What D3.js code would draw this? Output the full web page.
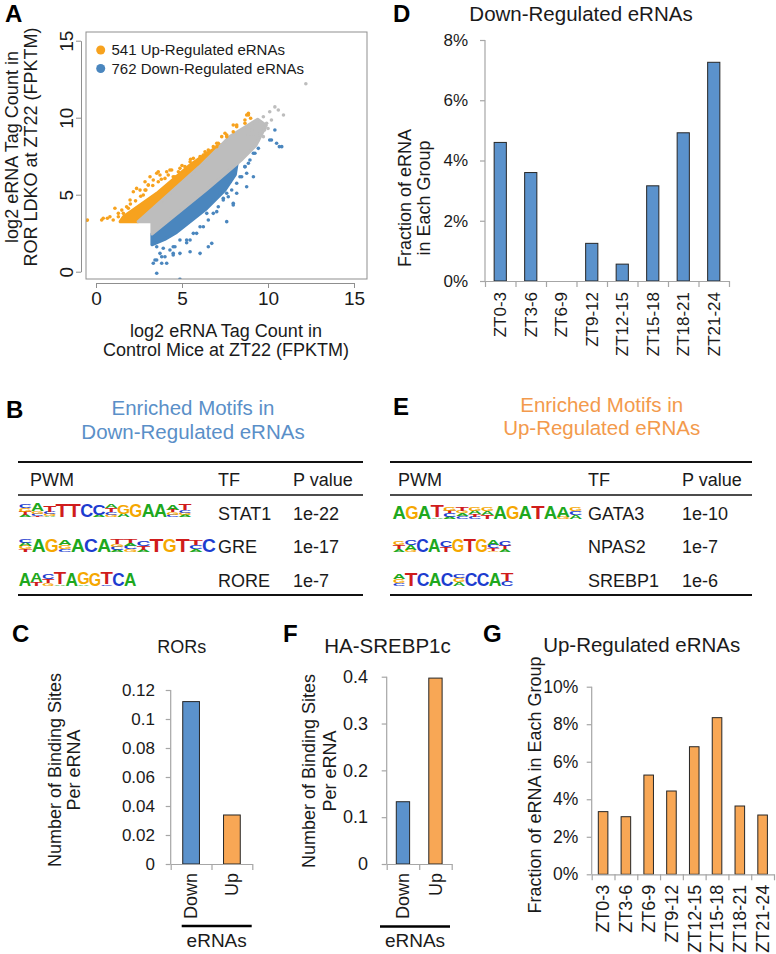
<!DOCTYPE html>
<html><head><meta charset="utf-8">
<script src="https://cdn.jsdelivr.net/npm/d3@7"></script>
<style>body{margin:0;background:#fff}svg{display:block}text{font-family:"Liberation Sans",Arial,Helvetica,sans-serif}</style>
</head><body><svg id="c" width="776" height="954"></svg>
<script>
// ---------------- DATA ----------------
const legendLabels = ["541 Up-Regulated eRNAs", "762 Down-Regulated eRNAs"];
const scatterTicks = [0, 5, 10, 15];
// dense point clouds (outline of the solid regions, data units)
const denseGrey = [[2.45,3.25],[3.25,3.25],[3.25,2.45],[6.4,5.3],[8.5,7.3],[9.3,8.2],[9.9,9.5],[9.4,9.9],[7.8,8.8],[7.0,7.9],[6.0,6.8]];
const denseUp = [[1.4,3.25],[2.45,3.25],[6.0,6.8],[7.0,7.9],[7.3,8.25],[6.44,7.69],[5.47,6.93],[3.53,5.09],[1.59,3.57]];
const denseDown = [[3.25,2.45],[6.4,5.3],[7.8,6.6],[8.2,7.0],[8.1,6.3],[7.5,5.3],[6.44,4.1],[4.69,2.55],[4.0,2.1],[3.25,1.75]];
// individual points
const pointsUp = [[-0.5,3.35],[0.33,3.36],[0.42,3.47],[0.66,3.47],[0.81,3.57],[1.0,3.36],[1.1,4.12],[1.3,3.57],[1.3,3.79],[1.59,3.79],[1.78,4.22],[1.88,4.12],[1.98,4.66],[2.17,5.19],[2.36,5.41],[2.56,5.3],[2.75,4.98],[2.85,5.84],[3.04,5.63],[3.14,6.17],[3.53,6.39],[3.62,5.84],[3.62,6.49],[4.11,6.49],[4.2,6.28],[4.49,6.17],[4.79,6.49],[4.88,6.39],[5.27,6.71],[5.37,6.6],[5.66,7.04],[5.85,7.04],[6.05,7.47],[6.34,7.79],[7.02,8.12],[7.02,8.34],[7.6,8.77],[7.6,8.88],[7.98,9.09],[7.98,9.53],[8.18,9.53],[8.66,9.64],[8.66,9.85],[8.86,10.18],[8.86,10.29],[8.99,9.96],[2.0,4.4],[2.3,4.6],[2.6,4.9],[1.5,4.0],[2.9,5.3],[3.3,5.6],[3.8,6.0],[4.4,6.6],[5.0,6.9],[5.5,7.3],
  [2.85,5.31],[3.04,5.63],[3.33,5.95],[3.72,6.28],[4.01,6.06],[4.3,6.6],[4.59,6.17],[4.88,6.71],[5.17,6.82],[5.47,7.14],[5.66,7.36],[5.95,7.25],[6.24,7.58],[6.53,7.9],[6.82,8.12],[7.11,8.34],[7.31,8.77],[7.5,8.99],[8.18,9.42],[8.76,10.18]];
const pointsDown = [[3.53,-0.1],[4.88,-0.5],[3.43,0.76],[3.82,0.97],[4.11,0.55],[4.49,1.19],[4.88,1.19],[5.47,1.3],[6.05,1.19],[6.73,1.84],[7.6,3.25],[6.44,3.79],[7.02,3.9],[7.98,4.44],[8.76,5.52],[9.15,6.17],[9.24,7.69],[9.44,8.01],[10.2,8.55],[10.4,9.2],[10.5,8.34],[10.66,8.12],[10.8,8.12],[8.37,6.17],[8.66,6.82],[8.86,7.04],[7.98,6.39],[7.79,5.84],[8.18,5.09],[7.21,5.09],[6.05,2.92],[5.66,2.49],[5.27,2.06],[4.49,1.62],[3.91,1.52],[3.53,1.62],[3.33,0.55],[6.82,4.66],[7.6,5.09],[5.27,1.88],[6.53,1.62],[7.98,4.33],[7.4,4.77],[8.76,6.39],[10.1,8.55],[4.49,1.08],
  [3.72,1.19],[4.01,0.97],[4.3,1.41],[4.59,1.62],[4.88,2.06],[5.47,2.06],[5.85,2.49],[6.24,2.92],[6.53,3.36],[6.82,3.79],[7.11,4.22],[7.4,4.66],[7.69,4.87],[7.89,5.31],[8.18,5.74],[8.47,6.17],[8.66,6.82],[8.95,7.25],[9.15,7.69],[3.53,0.76],[3.82,0.55]];
const pointsGrey = [[12.2,12.2],[10.4,10.7],[10.6,10.5],[10.9,10.18],[10.1,10.39],[9.73,10.06],[9.53,9.74],[9.24,9.64],[9.92,9.64],[10.2,9.85],[9.53,8.99],[9.15,8.77],[9.73,8.77],[9.44,8.55],[9.05,9.2],[8.86,8.88],[10.0,9.3],[9.8,9.2]];

const ztGroups = ["ZT0-3","ZT3-6","ZT6-9","ZT9-12","ZT12-15","ZT15-18","ZT18-21","ZT21-24"];
const downFraction = [4.6, 3.6, 0, 1.25, 0.56, 3.16, 4.92, 7.26];
const upFraction = [3.34, 3.07, 5.29, 4.44, 6.8, 8.35, 3.64, 3.16];
const downTicks = [0, 2, 4, 6, 8];
const upTicks = [0, 2, 4, 6, 8, 10];

const siteGroups = ["Down", "Up"];
const rorSites = [0.112, 0.0338];
const rorTicks = [0, 0.02, 0.04, 0.06, 0.08, 0.1, 0.12];
const srebpSites = [0.133, 0.397];
const srebpTicks = [0, 0.1, 0.2, 0.3, 0.4];

const tableHeader = ["PWM", "TF", "P value"];
const downTF = ["STAT1", "GRE", "RORE"];
const downP = ["1e-22", "1e-17", "1e-7"];
const upTF = ["GATA3", "NPAS2", "SREBP1"];
const upP = ["1e-10", "1e-7", "1e-6"];
// sequence logos: each position = stack of [letter, relative height], top to bottom
const logoSTAT1 = [[["C",.25],["G",.3],["T",.25],["A",.15]],[["A",.55],["G",.2],["C",.15],["T",.1]],[["T",.5],["C",.15],["G",.15],["A",.1]],[["T",1]],[["T",1]],[["C",1]],[["C",.8],["A",.15]],[["A",.3],["T",.3],["C",.2],["G",.15]],[["G",.7],["A",.25]],[["G",1]],[["A",1]],[["A",1]],[["A",.4],["T",.2],["G",.2],["C",.15]],[["T",.45],["C",.2],["G",.15],["A",.15]]];
const logoGRE = [[["C",.25],["A",.25],["G",.25],["T",.2]],[["A",.95]],[["G",.95]],[["A",.35],["G",.3],["C",.2]],[["A",1]],[["C",1]],[["A",1]],[["T",.35],["G",.2],["C",.25],["A",.15]],[["T",.3],["A",.2],["C",.25],["G",.2]],[["C",.35],["T",.3],["A",.15]],[["T",1]],[["G",1]],[["T",1]],[["T",.4],["C",.3],["A",.2]],[["C",.95]]];
const logoRORE = [[["A",1]],[["A",.65],["T",.25]],[["C",.35],["T",.3],["G",.2]],[["T",.9],["A",.1]],[["A",1]],[["G",.9],["A",.1]],[["G",1]],[["T",.9],["C",.1]],[["C",1]],[["A",1]]];
const logoGATA3 = [[["A",1]],[["G",1]],[["A",1]],[["T",.85],["A",.1]],[["G",.3],["T",.2],["C",.25],["A",.15]],[["T",.3],["G",.2],["A",.2],["C",.2]],[["G",.3],["A",.25],["T",.2],["C",.15]],[["G",.3],["A",.3],["T",.25]],[["A",1]],[["G",1]],[["A",1]],[["T",1]],[["A",1]],[["A",.75],["G",.15]],[["G",.3],["C",.25],["A",.3]]];
const logoNPAS2 = [[["G",.3],["T",.3],["A",.2]],[["C",.35],["A",.35],["G",.15]],[["C",1]],[["A",1]],[["C",.5],["T",.35]],[["G",1]],[["T",1]],[["G",1]],[["A",.35],["C",.25],["T",.2],["G",.1]],[["C",.35],["T",.25],["A",.2]]];
const logoSREBP1 = [[["A",.4],["G",.3],["C",.2]],[["T",1]],[["C",1]],[["A",1]],[["C",1]],[["C",.3],["G",.3],["A",.3]],[["C",1]],[["C",1]],[["A",1]],[["T",.6],["C",.35]]];

// ---------------- STYLE ----------------
const INK = "#1a1a1a", AXIS = "#a6a6a6", RAXIS = "#8f8f8f";
const C_UP = "#f7a21e", C_DOWN = "#4a86be", C_GREY = "#bdbdbd";
const BAR_BLUE = "#5b92cc", BAR_ORANGE = "#f8a755";
const TITLE_BLUE = "#5a8fc8", TITLE_ORANGE = "#f39a4c";
const logoColors = {A:"#1ea81e", C:"#1d3ccf", G:"#f5a700", T:"#d01c1c"};

const svg = d3.select("#c");

function text(g, x, y, s, size, o = {}) {
  return g.append("text").attr("x", x).attr("y", y).text(s)
    .attr("font-size", size).attr("fill", o.fill || INK)
    .attr("text-anchor", o.anchor || "start")
    .attr("font-weight", o.bold ? "bold" : null);
}
function rtext(g, x, y, s, size, anchor = "middle", fill = INK) {
  return g.append("text").attr("transform", `translate(${x},${y}) rotate(-90)`)
    .text(s).attr("font-size", size).attr("fill", fill).attr("text-anchor", anchor);
}

// panel letters
[["A",5,22],["D",393,22],["B",6,418],["E",393,415],["C",12,642],["F",283,642],["G",483,642]]
  .forEach(([l,x,y]) => text(svg, x, y, l, 24, {bold: true, fill: "#000"}));

// ---------------- PANEL A: scatter ----------------
(function () {
  const g = svg.append("g");
  const x = d3.scaleLinear().domain([0, 15]).range([96, 354]);
  const y = d3.scaleLinear().domain([0, 15]).range([271.7, 40.7]);
  const bx0 = 86, by0 = 32, bx1 = 367, by1 = 279;
  svg.append("clipPath").attr("id", "clipA").append("rect")
    .attr("x", bx0).attr("y", by0).attr("width", bx1 - bx0).attr("height", by1 - by0);
  const pg = g.append("g").attr("clip-path", "url(#clipA)");
  const line = d3.line().x(d => x(d[0])).y(d => y(d[1])).curve(d3.curveLinearClosed);
  [[denseUp, C_UP], [denseDown, C_DOWN], [denseGrey, C_GREY]].forEach(([poly, col]) => {
    pg.append("path").attr("d", line(poly)).attr("fill", col).attr("stroke", col)
      .attr("stroke-width", 3).attr("stroke-linejoin", "round");
  });
  [[pointsGrey, C_GREY], [pointsUp, C_UP], [pointsDown, C_DOWN]].forEach(([pts, col]) => {
    pg.selectAll(null).data(pts).join("circle")
      .attr("cx", d => x(d[0])).attr("cy", d => y(d[1])).attr("r", 1.8).attr("fill", col);
  });
  g.append("rect").attr("x", bx0).attr("y", by0).attr("width", bx1 - bx0).attr("height", by1 - by0)
    .attr("fill", "none").attr("stroke", RAXIS).attr("stroke-width", 1);
  // axes
  const ax = g.append("g").attr("transform", "translate(0,283)")
    .call(d3.axisBottom(x).tickValues(scatterTicks).tickSize(5).tickSizeOuter(0).tickPadding(5));
  const ay = g.append("g").attr("transform", "translate(81,0)")
    .call(d3.axisLeft(y).tickValues(scatterTicks).tickSize(5).tickSizeOuter(0));
  [ax, ay].forEach(a => {
    a.select(".domain").attr("stroke", RAXIS);
    a.selectAll(".tick line").attr("stroke", RAXIS);
    a.selectAll("text").attr("font-size", 19).attr("fill", INK)
      .attr("font-family", '"Liberation Sans",Arial,sans-serif');
  });
  ax.selectAll("text").attr("dy", null).attr("y", 22);
  ay.selectAll("text").attr("transform", "rotate(-90)").attr("x", 0).attr("y", -8)
    .attr("dy", null).attr("text-anchor", "middle");
  // legend
  [[C_UP, 50], [C_DOWN, 68.5]].forEach(([col, yy], i) => {
    g.append("circle").attr("cx", 100.7).attr("cy", yy).attr("r", 4.5).attr("fill", col);
    text(g, 111.5, yy + 5.3, legendLabels[i], 15);
  });
  // axis titles
  text(g, 226, 337, "log2 eRNA Tag Count in", 18, {anchor: "middle"});
  text(g, 226, 356, "Control Mice at ZT22 (FPKTM)", 18, {anchor: "middle"});
  rtext(g, 18, 147, "log2 eRNA Tag Count in", 18);
  rtext(g, 37, 147, "ROR LDKO at ZT22 (FPKTM)", 18);
})();

// ---------------- generic Excel-style bar chart ----------------
function barChart(o) {
  const g = svg.append("g");
  const x = d3.scaleBand().domain(o.cats).range([o.x0, o.x1]);
  const xi = d3.scaleLinear().domain([0, o.cats.length]).range([o.x0, o.x1]);
  const y = d3.scaleLinear().domain([0, o.yMax]).range([o.y0, o.yTop]);
  const bw = x.bandwidth() * o.barFrac;
  const data = o.cats.map((c, i) => ({c, v: o.vals[i], col: Array.isArray(o.color) ? o.color[i] : o.color}))
    .filter(d => d.v > 0);
  g.selectAll(null).data(data).join("rect")
    .attr("x", d => x(d.c) + (x.bandwidth() - bw) / 2).attr("width", bw)
    .attr("y", d => y(d.v)).attr("height", d => y(0) - y(d.v))
    .attr("fill", d => d.col).attr("stroke", "#262626").attr("stroke-width", 1);
  const ay = g.append("g").attr("transform", `translate(${o.x0},0)`)
    .call(d3.axisLeft(y).tickValues(o.ticks).tickFormat(o.fmt).tickSize(5).tickSizeOuter(0).tickPadding(o.labelGap - 5));
  const ax = g.append("g").attr("transform", `translate(0,${o.y0})`)
    .call(d3.axisBottom(xi).tickValues(d3.range(o.cats.length + 1)).tickFormat("").tickSize(6).tickSizeOuter(0));
  [ax, ay].forEach(a => {
    a.select(".domain").attr("stroke", AXIS).attr("stroke-width", 1.2);
    a.selectAll(".tick line").attr("stroke", AXIS).attr("stroke-width", 1.2);
  });
  ay.select(".domain").attr("d", `M0,${o.y0}V${o.yTop}`);
  ay.selectAll("text").attr("font-size", o.tickFont).attr("fill", INK)
    .attr("font-family", '"Liberation Sans",Arial,sans-serif');
  g.selectAll(null).data(o.cats).join("text")
    .attr("transform", d => `translate(${x(d) + x.bandwidth() / 2},${o.y0 + o.xLabelGap}) rotate(-90)`)
    .attr("dy", "0.35em").attr("text-anchor", "end").attr("font-size", o.xFont).attr("fill", INK)
    .text(d => d);
  return g;
}

// ---------------- PANEL D ----------------
barChart({cats: ztGroups, vals: downFraction, color: BAR_BLUE, x0: 485, x1: 729, y0: 281, yTop: 40,
  yMax: 8, ticks: downTicks, fmt: d => d + "%", labelGap: 17, tickFont: 17, xLabelGap: 11, xFont: 17, barFrac: 0.4});
text(svg, 581, 21, "Down-Regulated eRNAs", 20.5, {anchor: "middle"});
rtext(svg, 411, 198, "Fraction of eRNA", 18);
rtext(svg, 430, 198, "in Each Group", 18);

// ---------------- PANEL G ----------------
barChart({cats: ztGroups, vals: upFraction, color: BAR_ORANGE, x0: 591.7, x1: 774, y0: 874.3, yTop: 686.7,
  yMax: 10, ticks: upTicks, fmt: d => d + "%", labelGap: 13.5, tickFont: 17.5, xLabelGap: 10.5, xFont: 18, barFrac: 0.42});
text(svg, 641.7, 652, "Up-Regulated eRNAs", 20.5, {anchor: "middle"});
rtext(svg, 541, 785, "Fraction of eRNA in Each Group", 18);

// ---------------- PANEL C ----------------
barChart({cats: siteGroups, vals: rorSites, color: [BAR_BLUE, BAR_ORANGE], x0: 170.7, x1: 252.3, y0: 864, yTop: 690,
  yMax: 0.12, ticks: rorTicks, fmt: d => d3.format("~g")(d), labelGap: 15.7, tickFont: 17, xLabelGap: 9, xFont: 18, barFrac: 0.41});
text(svg, 181.7, 653, "RORs", 18, {anchor: "middle"});
rtext(svg, 61, 770, "Number of Binding Sites", 18);
rtext(svg, 80, 770, "Per eRNA", 18);
svg.append("line").attr("x1", 181.7).attr("x2", 251.7).attr("y1", 926).attr("y2", 926).attr("stroke", "#000").attr("stroke-width", 2.5);
text(svg, 216.7, 946.5, "eRNAs", 19, {anchor: "middle"});

// ---------------- PANEL F ----------------
barChart({cats: siteGroups, vals: srebpSites, color: [BAR_BLUE, BAR_ORANGE], x0: 386.7, x1: 451.7, y0: 864, yTop: 676.7,
  yMax: 0.4, ticks: srebpTicks, fmt: d => d3.format("~g")(d), labelGap: 18.7, tickFont: 18, xLabelGap: 9, xFont: 18, barFrac: 0.41});
text(svg, 387.5, 653, "HA-SREBP1c", 20.5, {anchor: "middle"});
rtext(svg, 315, 771, "Number of Binding Sites", 18);
rtext(svg, 336, 771, "Per eRNA", 18);
svg.append("line").attr("x1", 380).attr("x2", 450).attr("y1", 926.5).attr("y2", 926.5).attr("stroke", "#000").attr("stroke-width", 2.5);
text(svg, 415, 946.5, "eRNAs", 19, {anchor: "middle"});

// ---------------- motif tables (B, E) ----------------
function drawLogo(g, positions, x0, bottom, posW, fullH) {
  positions.forEach((stack, i) => {
    let yb = bottom;
    stack.slice().reverse().forEach(([L, f]) => {
      const h = f * fullH;
      const t = g.append("text").text(L).attr("font-size", 100).attr("font-weight", "bold")
        .attr("fill", logoColors[L]).attr("text-anchor", "middle");
      const adv = t.node().getComputedTextLength() || 70;
      t.attr("transform", `translate(${x0 + (i + 0.5) * posW},${yb}) scale(${posW * 1.06 / adv},${h / 72})`);
      yb -= h;
    });
  });
}
function motifTable(o) {
  const g = svg.append("g");
  text(g, o.tcx, o.ty1, "Enriched Motifs in", 20.5, {anchor: "middle", fill: o.titleColor});
  text(g, o.tcx, o.ty1 + 23.5, o.title2, 20.5, {anchor: "middle", fill: o.titleColor});
  [[462, 2], [495, 1.5], [595, 2]].forEach(([yy, w]) =>
    g.append("line").attr("x1", o.x0).attr("x2", o.x1).attr("y1", yy).attr("y2", yy).attr("stroke", "#111").attr("stroke-width", w));
  tableHeader.forEach((h, i) => text(g, o.cols[i], 486, h, 18));
  const rowsY = [519.5, 553, 587];
  o.tf.forEach((t, i) => {
    text(g, o.cols[1], rowsY[i], t, 18);
    text(g, o.cols[2], rowsY[i], o.p[i], 18);
    drawLogo(g, o.logos[i], o.logoX, o.logoBottom[i], o.logoW[i], 13.3);
  });
}
motifTable({x0: 18, x1: 363, tcx: 193, ty1: 415, title2: "Down-Regulated eRNAs", titleColor: TITLE_BLUE,
  cols: [30, 218, 293], tf: downTF, p: downP, logos: [logoSTAT1, logoGRE, logoRORE],
  logoX: 19, logoBottom: [517, 552, 585.5], logoW: [12.3, 13.1, 11.7]});
motifTable({x0: 390, x1: 752, tcx: 601.7, ty1: 411.7, title2: "Up-Regulated eRNAs", titleColor: TITLE_ORANGE,
  cols: [398, 588, 682], tf: upTF, p: upP, logos: [logoGATA3, logoNPAS2, logoSREBP1],
  logoX: 393, logoBottom: [518.5, 552, 585.5], logoW: [12.6, 11.8, 12]});
</script></body></html>
